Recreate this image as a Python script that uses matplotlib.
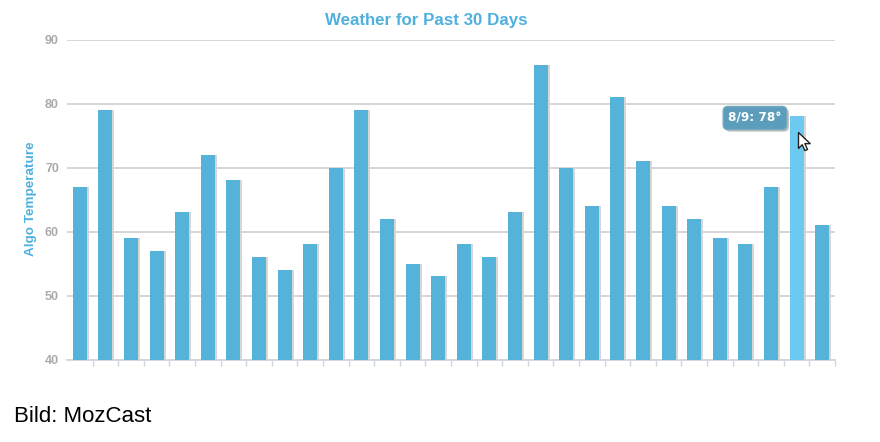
# weather bars, MozCast style
import matplotlib
matplotlib.use("Agg")
from matplotlib import pyplot as plt
from matplotlib import patheffects as pe
from matplotlib.transforms import ScaledTranslation
import numpy as np

temps = [67, 79, 59, 57, 63, 72, 68, 56, 54, 58, 70, 79, 62, 55, 53,
         58, 56, 63, 86, 70, 64, 81, 71, 64, 62, 59, 58, 67, 78, 61]
y_ticks = [40, 50, 60, 70, 80, 90]
title = "Weather for Past 30 Days"
y_label = "Algo Temperature"
tooltip = "8/9: 78°"
credit = "Bild: MozCast"
active = 28

blue = "#55b2d9"
light_blue = "#6cc9ef"
label_blue = "#4fb0de"
grey = "#aaaaaa"

W, H = 880, 442
plt.rcParams["font.family"] = ["Liberation Sans", "DejaVu Sans"]

fig = plt.figure(figsize=(W / 100, H / 100), dpi=100)
ax = fig.add_axes([67 / W, 1 - 359.5 / H, (835 - 67) / W, 320 / H])

x = np.arange(len(temps))
colors = [light_blue if i == active else blue for i in x]

# shadow is just the same bars pushed 2px right
shadow = ax.transData + ScaledTranslation(2 / 100, 0, fig.dpi_scale_trans)
ax.bar(x, temps, width=0.55, color="#d8d5d5", transform=shadow, zorder=2)
ax.bar(x, temps, width=0.55, color=colors, zorder=3)

ax.set_xlim(-0.5, len(temps) - 0.5)
ax.set_ylim(40, 90)
ax.set_yticks(y_ticks)
# no tick at the very left end
ax.set_xticks(np.arange(1, len(temps) + 1) - 0.5)
ax.set_xticklabels([])
ax.grid(axis="y", color="#d2d2d2", lw=1.3, zorder=1)
ax.set_axisbelow(True)
ax.tick_params(axis="x", length=4, color="#cfd6dd", width=1)
ax.tick_params(axis="y", length=0, pad=5.8, labelcolor=grey)
for lab in ax.get_yticklabels():
    lab.set_fontsize(9)
    lab.set_fontweight("bold")
for side in ["top", "left", "right"]:
    ax.spines[side].set_visible(False)
ax.spines["bottom"].set_color("#cfd6dd")
ax.spines["bottom"].set_linewidth(1.3)

fig.text(426.5 / W, 1 - 20.5 / H, title, color=label_blue, fontsize=12.2,
         fontweight="bold", ha="center", va="center")
fig.text(31 / W, 1 - 198.5 / H, y_label, color=label_blue, fontsize=9.7,
         fontweight="bold", rotation=90, ha="center", va="center")
fig.text(14 / W, 1 - 417 / H, credit, color="black", fontsize=16,
         ha="left", va="center")

# tooltip to the left of the hovered bar
tip = ax.annotate(tooltip, (active, temps[active]), xytext=(755 / W, 1 - 118 / H),
                  textcoords="figure fraction", color="white", fontsize=8.7,
                  fontweight="bold", ha="center", va="center",
                  family=["DejaVu Sans"], zorder=6,
                  bbox=dict(boxstyle="round,pad=0.42,rounding_size=0.4",
                            fc="#5b9dba", ec="#79a9bf", lw=1))
tip.get_bbox_patch().set_path_effects([
    pe.SimplePatchShadow(offset=(1.5, -1.5), shadow_rgbFace="#999999", alpha=0.6),
    pe.Normal()])

# mouse pointer
arrow = [(0, 0), (0, -15), (3.5, -11.5), (6, -17), (8.5, -16), (6, -10.5), (11, -10.5), (0, 0)]
ax.plot([28.05], [75.5], marker=arrow, markersize=26, mfc="white",
        mec="#222222", mew=1, zorder=7, clip_on=False)

fig.savefig("out.png", dpi=100)
